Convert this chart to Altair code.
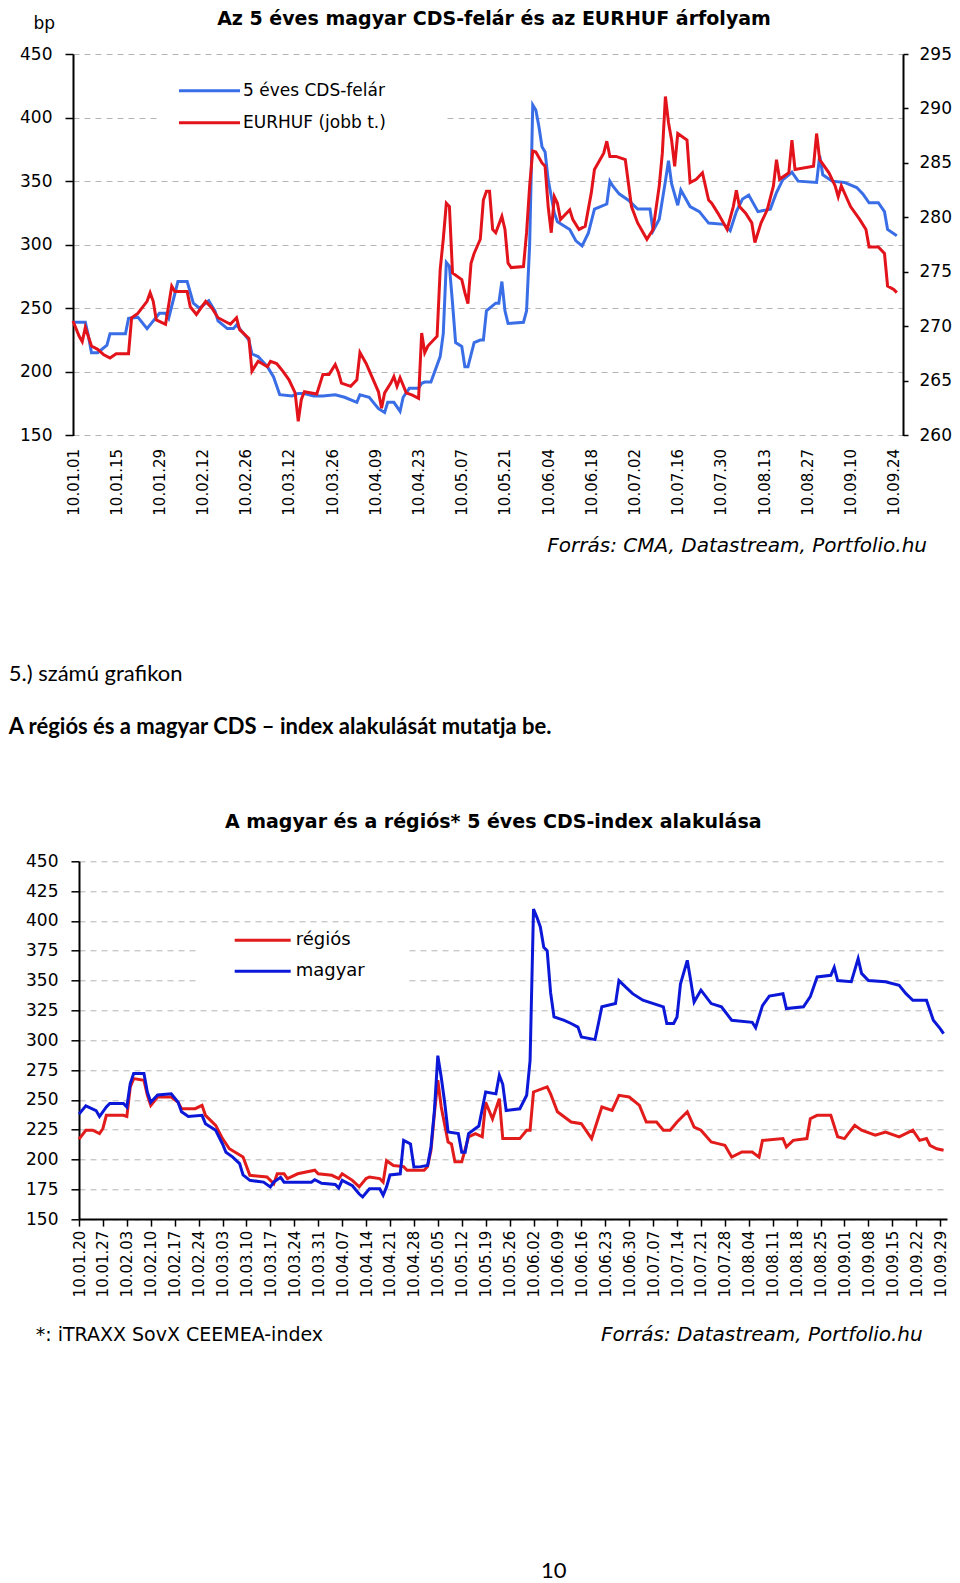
import altair as alt
import pandas as pd

# ---------------- data: top chart (day offsets from 2010-01-01) ----------------
cds_day = [0, 4, 5, 6, 8, 11, 12, 17, 18, 21, 24, 28, 30, 31, 34, 37, 39, 41, 44, 46,
           47, 50, 52, 53, 55, 57, 58, 60, 63, 65, 66, 67, 71, 73, 75, 78, 81, 85, 88, 92,
           93, 96, 99, 101, 102, 104, 106, 107, 109, 112, 113, 114, 116, 119, 120, 121, 122, 123, 124, 126,
           127, 128, 130, 132, 133, 134, 137, 138, 139, 140, 141, 146, 147, 148, 149, 150, 151, 152, 153, 154,
           156, 157, 161, 163, 165, 167, 169, 173, 174, 175, 177, 180, 183, 187, 188, 190, 192, 193, 194, 196,
           197, 200, 203, 206, 211, 213, 215, 217, 219, 222, 226, 228, 230, 233, 235, 241, 242, 243, 246, 250,
           254, 256, 258, 261, 263, 264, 267]
cds_val = [239, 239, 228, 215, 215, 221, 230, 230, 242, 243, 234, 246, 246, 242, 271, 271, 254, 250, 256, 248,
           240, 234, 234, 237, 231, 225, 214, 212, 204, 196, 189, 182, 181, 183, 183, 181, 181, 182, 180, 176,
           182, 180, 171, 168, 176, 176, 169, 180, 187, 187, 191, 192, 192, 212, 230, 286, 283, 254, 223, 220,
           204, 204, 223, 225, 225, 248, 254, 254, 271, 248, 238, 239, 248, 300, 410, 406, 393, 377, 373, 351,
           325, 318, 312, 303, 299, 309, 328, 332, 350, 346, 340, 335, 328, 328, 311, 320, 350, 366, 348, 331,
           343, 330, 326, 317, 316, 311, 326, 336, 339, 326, 328, 341, 351, 357, 350, 349, 370, 355, 350, 349,
           345, 340, 333, 333, 326, 312, 307]

huf_day = [0, 2, 3, 4, 6, 8, 10, 12, 14, 18, 19, 21, 24, 25, 26, 27, 30, 32, 33, 37,
           38, 40, 43, 45, 47, 51, 53, 54, 57, 58, 60, 63, 64, 66, 68, 70, 72, 73, 74, 75,
           79, 81, 83, 85, 86, 87, 90, 92, 93, 95, 97, 99, 100, 101, 103, 104, 105, 106, 108, 110,
           112, 113, 114, 115, 118, 119, 120, 121, 122, 123, 126, 127, 128, 129, 130, 132, 133, 134, 135, 136,
           137, 139, 140, 141, 142, 146, 147, 148, 149, 150, 152, 153, 154, 155, 156, 157, 158, 161, 162, 164,
           166, 168, 169, 172, 173, 174, 176, 179, 181, 183, 186, 188, 190, 191, 192, 193, 194, 195, 196, 199,
           200, 202, 204, 206, 207, 209, 212, 214, 215, 216, 218, 220, 221, 223, 225, 227, 228, 229, 232, 233,
           234, 240, 241, 242, 245, 247, 248, 249, 252, 255, 257, 258, 261, 263, 264, 266, 267]
huf_val = [270.5, 269.1, 268.6, 269.9, 268.2, 267.9, 267.4, 267.1, 267.5, 267.5, 270.8, 271.2, 272.3, 273.1, 272.3, 270.6, 270.2, 273.7, 273.2, 273.2,
           271.8, 271.1, 272.3, 271.7, 270.8, 270.2, 270.8, 269.7, 268.9, 265.9, 266.8, 266.3, 266.8, 266.6, 265.9, 265.1, 263.9, 261.3, 263.3, 264.0,
           263.8, 265.6, 265.6, 266.5, 265.8, 264.8, 264.5, 265.1, 267.6, 266.6, 265.3, 264.0, 262.5, 263.9, 264.8, 265.4, 264.5, 265.3, 263.9, 263.7,
           263.4, 269.4, 267.6, 268.2, 269.1, 275.2, 278.0, 281.3, 281.0, 274.9, 274.3, 273.1, 272.1, 275.8, 276.7, 278.0, 281.6, 282.4, 282.4, 278.9,
           278.6, 280.1, 278.9, 275.8, 275.4, 275.5, 278.6, 282.9, 286.1, 286.0, 285.0, 284.7, 281.0, 278.6, 281.9, 281.3, 279.8, 280.7, 279.8, 278.9,
           279.2, 282.3, 284.4, 285.9, 287.0, 285.6, 285.6, 285.3, 281.0, 279.5, 278.0, 278.9, 282.9, 285.9, 291.1, 288.7, 287.1, 284.7, 287.7, 287.1,
           283.2, 283.5, 284.1, 281.6, 281.3, 280.4, 278.9, 281.0, 282.5, 281.0, 280.4, 279.5, 277.7, 279.5, 280.7, 282.9, 285.3, 283.5, 284.1, 287.1,
           284.4, 284.7, 287.7, 285.3, 284.1, 282.9, 281.9, 282.9, 281.0, 279.8, 278.9, 277.3, 277.3, 276.7, 273.7, 273.4, 273.1]

top_ticks = ["10.01.01", "10.01.15", "10.01.29", "10.02.12", "10.02.26", "10.03.12", "10.03.26",
             "10.04.09", "10.04.23", "10.05.07", "10.05.21", "10.06.04", "10.06.18", "10.07.02",
             "10.07.16", "10.07.30", "10.08.13", "10.08.27", "10.09.10", "10.09.24"]
left_ticks = [150, 200, 250, 300, 350, 400, 450]
right_ticks = [260, 265, 270, 275, 280, 285, 290, 295]

# ---------------- data: bottom chart (day offsets from 2010-01-20) ----------------
reg_day = [0, 2, 4, 6, 7, 8, 13, 14, 15, 16, 19, 20, 21, 23, 27, 29, 30, 34, 36, 37,
           40, 42, 44, 48, 50, 55, 57, 58, 60, 61, 64, 69, 70, 74, 76, 77, 80, 82, 84, 85,
           88, 89, 90, 92, 95, 96, 101, 102, 103, 104, 105, 106, 108, 109, 110, 112, 114, 116, 118, 119,
           121, 123, 124, 129, 131, 132, 133, 137, 138, 140, 144, 147, 150, 153, 156, 158, 161, 164, 166, 169,
           171, 173, 175, 178, 180, 182, 185, 187, 189, 191, 194, 197, 199, 200, 206, 207, 209, 213, 214, 216,
           220, 222, 224, 227, 229, 233, 236, 240, 244, 246, 248, 249, 251, 253]
reg_val = [217, 224.5, 224.5, 221.7, 226, 237, 237, 236, 260.8, 267.8, 266.4, 254, 245.4, 252.4, 252.4, 248, 242.6, 242.6, 245.4, 237,
           228.6, 217.5, 209, 202, 186.7, 185.3, 179.7, 188, 188, 184, 188, 191, 188, 186.7, 184, 188, 182.5, 177, 184, 185.3,
           184, 181, 199, 195, 194, 191, 191, 194, 207.7, 238.4, 266.4, 244, 214.7, 213, 198, 198, 219, 221.7, 219, 248,
           234, 251, 217.5, 217.5, 224.5, 224.5, 256.6, 260.8, 255, 240, 231.4, 230, 217.5, 244, 241.2, 253.8, 252.4, 245.4, 231.4, 231.4,
           224.5, 224.5, 231.4, 240, 227.2, 224.5, 214.7, 213.3, 211.9, 202, 206.3, 206.3, 202, 216, 217.5, 210.5, 216, 217.5, 234.2, 237,
           237, 219, 217.5, 228.6, 224.5, 220.3, 223, 219, 224.5, 216, 217.5, 211.9, 209, 207.7]

hun_day = [0, 2, 5, 6, 8, 9, 13, 14, 15, 16, 19, 20, 21, 23, 27, 29, 30, 32, 36, 37,
           40, 42, 43, 45, 47, 48, 50, 54, 56, 57, 59, 60, 65, 68, 69, 71, 75, 76, 77, 80,
           82, 83, 85, 88, 89, 90, 91, 94, 95, 97, 98, 100, 102, 103, 104, 105, 106, 107, 108, 111,
           112, 113, 114, 116, 117, 119, 122, 123, 124, 125, 129, 131, 132, 133, 134, 135, 136, 137, 138, 139,
           142, 144, 146, 147, 151, 152, 153, 157, 158, 160, 162, 165, 171, 172, 174, 175, 176, 178, 179, 180,
           182, 185, 188, 191, 197, 198, 200, 202, 206, 207, 212, 214, 216, 220, 221, 222, 226, 228, 229, 231,
           236, 240, 242, 244, 248, 250, 252, 253]
hun_val = [238, 245, 241, 236, 244, 247, 247, 244, 263.6, 272, 272, 256.6, 248, 254, 255, 248, 240, 236, 237, 230,
           224.5, 213, 206, 202, 196.5, 187, 182.5, 181, 177, 181, 185, 181, 181, 181, 183, 180, 179, 176, 182.5, 178,
           171, 168.6, 175.5, 175.5, 170, 177, 187, 188, 216, 213, 193.7, 194, 195, 210.5, 241, 287, 269, 248, 223, 221.7,
           206, 206, 221.7, 226, 228, 256.6, 255, 270.6, 263, 241, 242.5, 253.8, 283, 410, 403, 395, 378, 375, 340, 319.5,
           316.7, 314, 311, 302.7, 300.5, 314, 328, 330.7, 350, 344.5, 339, 333.5, 328, 314, 314, 319.5, 347, 367, 350, 332,
           342, 330.7, 328, 316.7, 315, 310.5, 329, 337, 339, 326.5, 328, 336.5, 353, 354.4, 361, 350, 349, 368.4, 356, 350,
           349, 346, 339, 333.5, 333.5, 316.7, 309.7, 305.5]

bot_ticks = ["10.01.20", "10.01.27", "10.02.03", "10.02.10", "10.02.17", "10.02.24", "10.03.03",
             "10.03.10", "10.03.17", "10.03.24", "10.03.31", "10.04.07", "10.04.14", "10.04.21",
             "10.04.28", "10.05.05", "10.05.12", "10.05.19", "10.05.26", "10.06.02", "10.06.09",
             "10.06.16", "10.06.23", "10.06.30", "10.07.07", "10.07.14", "10.07.21", "10.07.28",
             "10.08.04", "10.08.11", "10.08.18", "10.08.25", "10.09.01", "10.09.08", "10.09.15",
             "10.09.22", "10.09.29"]
bot_left_ticks = [150, 175, 200, 225, 250, 275, 300, 325, 350, 375, 400, 425, 450]

# ---------------- helpers ----------------
def to_dates(start, days):
    s = pd.Timestamp(start)
    return [(s + pd.Timedelta(days=d)).strftime("%Y-%m-%d") for d in days]


def dt(label):
    yy, mm, dd = label.split(".")
    return alt.DateTime(year=2000 + int(yy), month=int(mm), date=int(dd), utc=True)


dummy = pd.DataFrame({"k": [0]})
FONT = "DejaVu Sans"


def txt(s, x, y, size, font=FONT, weight="normal", style="normal", align="left", baseline="alphabetic"):
    return alt.Chart(dummy).mark_text(
        text=s, font=font, fontSize=size, fontWeight=weight, fontStyle=style,
        align=align, baseline=baseline, color="black"
    ).encode(x=alt.value(x), y=alt.value(y))


def rule(x1, x2, y, color):
    return alt.Chart(dummy).mark_rule(color=color, strokeWidth=3).encode(
        x=alt.value(x1), x2=alt.value(x2), y=alt.value(y))


def box(x1, x2, y1, y2):
    return alt.Chart(dummy).mark_rect(color="white").encode(
        x=alt.value(x1), x2=alt.value(x2), y=alt.value(y1), y2=alt.value(y2))


GRID = "#b4b4b4"
TOP_BLUE, TOP_RED = "#3a6ee6", "#e3131b"
BOT_RED, BOT_BLUE = "#e21b1b", "#0c18d8"

# ---------------- top chart ----------------
TW, TH = 830, 381.4
cds_df = pd.DataFrame({"date": to_dates("2010-01-01", cds_day), "v": cds_val})
huf_df = pd.DataFrame({"date": to_dates("2010-01-01", huf_day), "v": huf_val})

top_x = alt.X(
    "date:T",
    scale=alt.Scale(type="utc", domain=[dt("10.01.01"), dt("10.09.27")]),
    axis=alt.Axis(values=[dt(t) for t in top_ticks], format="%y.%m.%d", labelAngle=270,
                  domain=False, ticks=False, tickSize=0, grid=False, labelPadding=13,
                  labelFont=FONT, labelFontSize=15, labelColor="black", labelOverlap=False,
                  labelFlush=False, title=None),
)

cds_line = alt.Chart(cds_df).mark_line(color=TOP_BLUE, strokeWidth=3).encode(
    x=top_x,
    y=alt.Y("v:Q", scale=alt.Scale(domain=[150, 450], nice=False, zero=False),
            axis=alt.Axis(values=left_ticks, grid=True, gridColor=GRID, gridDash=[6, 5], gridWidth=1,
                          domainColor="black", domainWidth=2, tickColor="black", tickSize=8, tickWidth=1.5,
                          labelPadding=13, labelFont=FONT, labelFontSize=17, labelColor="black",
                          labelFlush=False,
                          title="bp", titleAngle=0, titleX=-40, titleY=-26, titleAlign="left",
                          titleBaseline="alphabetic", titleFont=FONT, titleFontSize=17,
                          titleFontWeight="normal", titleColor="black")),
)
huf_line = alt.Chart(huf_df).mark_line(color=TOP_RED, strokeWidth=3).encode(
    x=top_x,
    y=alt.Y("v:Q", scale=alt.Scale(domain=[260, 295], nice=False, zero=False),
            axis=alt.Axis(orient="right", values=right_ticks, grid=False,
                          domainColor="black", domainWidth=2, tickColor="black", tickSize=5, tickWidth=1.5,
                          labelPadding=11, labelFont=FONT, labelFontSize=17, labelColor="black",
                          labelFlush=False, title=None)),
)

# invisible anchor that fixes the top edge of the page layout
anchor = alt.Chart(dummy).mark_rule(opacity=0).encode(
    x=alt.value(0), x2=alt.value(1), y=alt.value(-45.8))

top = alt.layer(
    anchor,
    box(87, 374, 8, 115),
    cds_line,
    huf_line,
    rule(106, 167, 36.7, TOP_BLUE),
    rule(106, 167, 68.7, TOP_RED),
    txt("5 éves CDS-felár", 170, 36.7, 17, baseline="middle"),
    txt("EURHUF (jobb t.)", 170, 68.7, 17, baseline="middle"),
    txt("Az 5 éves magyar CDS-felár és az EURHUF árfolyam", 421, -29, 19, weight="bold", align="center"),
    txt("Forrás: CMA, Datastream, Portfolio.hu", 854, 498, 20, style="italic", align="right"),
).resolve_scale(y="independent").properties(width=TW, height=TH)

# ---------------- bottom chart ----------------
BW, BH = 868, 357.8
reg_df = pd.DataFrame({"date": to_dates("2010-01-20", reg_day), "v": reg_val})
hun_df = pd.DataFrame({"date": to_dates("2010-01-20", hun_day), "v": hun_val})

bot_x = alt.X(
    "date:T",
    scale=alt.Scale(type="utc", domain=[dt("10.01.20"), dt("10.10.01")]),
    axis=alt.Axis(values=[dt(t) for t in bot_ticks], format="%y.%m.%d", labelAngle=270,
                  domain=True, domainColor="black", domainWidth=2, ticks=True, tickSize=7,
                  tickColor="black", tickWidth=1.5, grid=False, labelPadding=4,
                  labelFont=FONT, labelFontSize=15, labelColor="black", labelOverlap=False,
                  labelFlush=False, title=None),
)
bot_y = alt.Y("v:Q", scale=alt.Scale(domain=[150, 450], nice=False, zero=False),
              axis=alt.Axis(values=bot_left_ticks, grid=True, gridColor=GRID, gridDash=[6, 5], gridWidth=1,
                            domainColor="black", domainWidth=2, tickColor="black", tickSize=8, tickWidth=1.5,
                            labelPadding=13, labelFont=FONT, labelFontSize=17, labelColor="black",
                            labelFlush=False, title=None))

reg_line = alt.Chart(reg_df).mark_line(color=BOT_RED, strokeWidth=3).encode(x=bot_x, y=bot_y)
hun_line = alt.Chart(hun_df).mark_line(color=BOT_BLUE, strokeWidth=3).encode(x=bot_x, y=bot_y)

bottom = alt.layer(
    box(118.7, 329.7, 64, 140),
    reg_line,
    hun_line,
    rule(155.7, 211.7, 79, BOT_RED),
    rule(155.7, 211.7, 110, BOT_BLUE),
    txt("régiós", 216.7, 79, 18, baseline="middle"),
    txt("magyar", 216.7, 110, 18, baseline="middle"),
    txt("A magyar és a régiós* 5 éves CDS-index alakulása", 414.2, -33.7, 19, weight="bold", align="center"),
    txt("*: iTRAXX SovX CEEMEA-index", -43.3, 480, 19),
    txt("Forrás: Datastream, Portfolio.hu", 843.7, 480, 20, style="italic", align="right"),
    txt("5.) számú grafikon", -70.3, -180.3, 22, font="Lato"),
    txt("A régiós és a magyar CDS – index alakulását mutatja be.", -70.3, -127, 22, font="Lato", weight="bold"),
    txt("10", 474.7, 717, 22, font="Lato", align="center"),
).properties(width=BW, height=BH)

spacer = alt.Chart(dummy).mark_point(opacity=0).encode(
    x=alt.value(0), y=alt.value(0)).properties(width=5.3, height=BH)

bottom_row = alt.hconcat(spacer, bottom, spacing=0, bounds="flush")

chart = alt.vconcat(top, bottom_row, spacing=425.3, bounds="flush").properties(
    padding=0, background="white"
).configure_view(stroke=None)

chart.save("out.html", embed_options={"renderer": "svg", "actions": False})
